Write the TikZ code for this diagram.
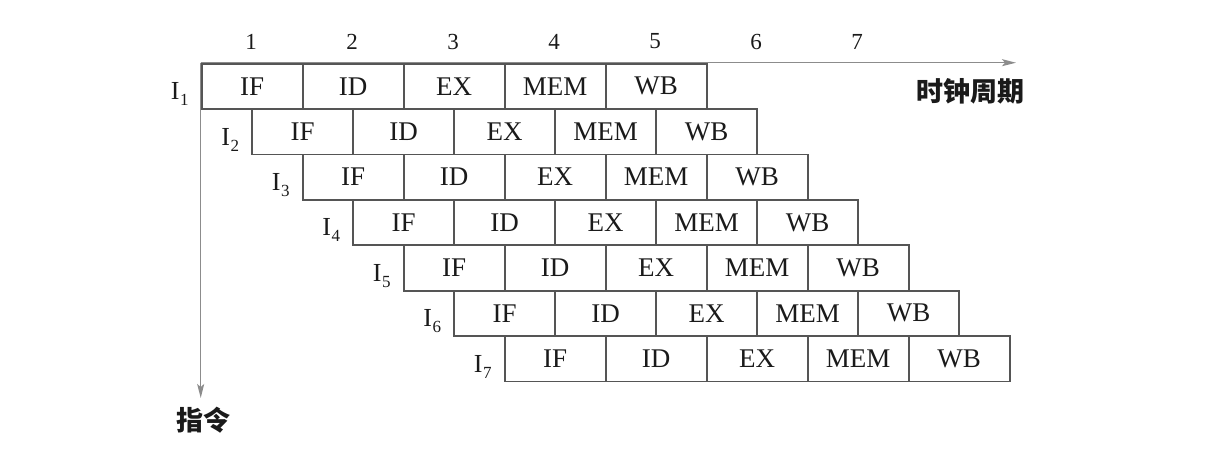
\documentclass[tikz,border=0pt]{standalone}
\usepackage{fontspec}
\setmainfont{Liberation Serif}
\newfontfamily\cjk{Noto Sans CJK SC}
\usetikzlibrary{arrows.meta}
\definecolor{boxline}{HTML}{555555}
\definecolor{axisline}{HTML}{8C8C8C}
\definecolor{ink}{HTML}{1A1A1A}
\newcommand{\Ilab}[1]{I\kern0.5pt\raisebox{-6pt}{\fontsize{17}{18}\selectfont #1}}
\begin{document}
\begin{tikzpicture}[x=1pt,y=-1pt,
  stagebox/.style={draw=boxline, line width=1.8pt, rectangle, inner sep=0pt,
    minimum width=101pt, minimum height=45.4pt, anchor=north west,
    text=ink, font=\fontsize{27}{29}\selectfont},
  instlab/.style={text=ink, font=\fontsize{26}{28}\selectfont, inner sep=0pt, anchor=base east},
  cyclab/.style={text=ink, font=\fontsize{23}{25}\selectfont, inner sep=0pt},
  cnlab/.style={text=ink, font=\cjk\bfseries\fontsize{27}{29}\selectfont, inner sep=0pt},
  axis/.style={draw=axisline, line width=1.4pt, -{Stealth[length=14pt,width=7pt,inset=3pt]}}]
\useasboundingbox (0,0) rectangle (1216,456);
% axes
\coordinate (O) at (200.7,62.7);
\coordinate (xend) at (1016,62.7);
\coordinate (yend) at (200.7,398);
\draw[axis] (O) -- (xend);
\draw[axis] (O) -- (yend);
% stage boxes
\foreach \k in {1,...,7}{
  \pgfmathsetmacro{\xl}{200.7+(\k-1)*50.5}
  \pgfmathsetmacro{\yt}{62.7+(\k-1)*45.4}
  \foreach \s [count=\j] in {IF,ID,EX,MEM,WB}{
    \node[stagebox] (r\k s\j) at ({\xl+(\j-1)*101},\yt) {\s};
  }
  \node[instlab] (lab\k) at ({\xl-12},{\yt+37}) {\Ilab{\k}};
}
% cycle numbers
\foreach \c in {1,...,7}{
  \node[cyclab] (c\c) at ({251.2+(\c-1)*101},41.5) {\c};
}
\node[cnlab] (clk) at (970,91.5) {时钟周期};
\node[cnlab] (inst) at (203,420) {指令};
\end{tikzpicture}
\end{document}
